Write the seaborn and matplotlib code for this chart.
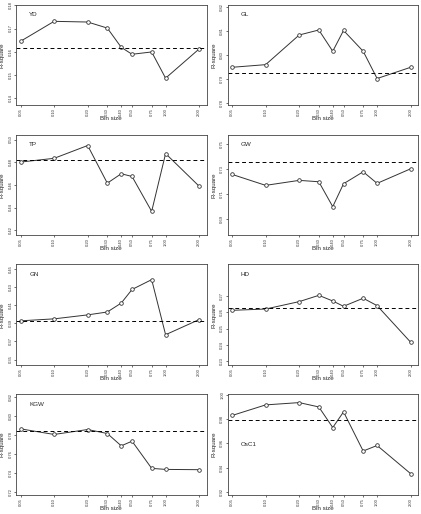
import matplotlib
matplotlib.use("Agg")
import matplotlib.pyplot as plt
import pandas as pd
import seaborn as sns
from matplotlib.ticker import FixedLocator, FixedFormatter, NullLocator

bin_sizes = [0.05, 0.10, 0.20, 0.30, 0.40, 0.50, 0.75, 1.00, 2.00]
bin_labels = ["0.05", "0.10", "0.20", "0.30", "0.40", "0.50", "0.75", "1.00", "2.00"]

traits = ["YD", "GL", "TP", "GW", "GN", "HD", "KGW", "OsC1"]

yd = [0.1645, 0.1731, 0.1728, 0.1702, 0.1619, 0.1589, 0.1599, 0.1486, 0.1612]
gl = [0.7949, 0.7960, 0.8084, 0.8105, 0.8016, 0.8103, 0.8016, 0.7902, 0.7949]
tp = [0.4801, 0.4834, 0.4947, 0.4615, 0.4698, 0.4674, 0.4366, 0.4876, 0.4588]
gw = [0.7260, 0.7172, 0.7212, 0.7201, 0.7001, 0.7185, 0.7281, 0.7188, 0.7305]
gn = [0.3929, 0.3951, 0.3995, 0.4027, 0.4126, 0.4277, 0.4386, 0.3775, 0.3943]
hd = [0.2613, 0.2621, 0.2667, 0.2706, 0.2671, 0.2638, 0.2688, 0.2642, 0.2415]
kgw = [0.7863, 0.7804, 0.7856, 0.7814, 0.7684, 0.7733, 0.7446, 0.7435, 0.7432]
osc1 = [0.9832, 0.9920, 0.9939, 0.9903, 0.9732, 0.9862, 0.9537, 0.9583, 0.9349]

# R-square with the original (un-binned) markers, drawn as the dashed line
baselines = [0.1615, 0.7925, 0.4819, 0.7361, 0.3925, 0.2625, 0.7842, 0.9793]

yticks = [
    [0.14, 0.15, 0.16, 0.17, 0.18],
    [0.78, 0.79, 0.80, 0.81, 0.82],
    [0.42, 0.44, 0.46, 0.48, 0.50],
    [0.69, 0.71, 0.73, 0.75],
    [0.35, 0.37, 0.39, 0.41, 0.43, 0.45],
    [0.23, 0.24, 0.25, 0.26, 0.27],
    [0.72, 0.74, 0.76, 0.78, 0.80, 0.82],
    [0.92, 0.94, 0.96, 0.98, 1.00],
]

ylims = [
    (0.1369, 0.1803),
    (0.7790, 0.8211),
    (0.4156, 0.5044),
    (0.6772, 0.7580),
    (0.3438, 0.4555),
    (0.2273, 0.2898),
    (0.7165, 0.8228),
    (0.9172, 1.0008),
]

label_pos = [(0.07, 0.90)] * 7 + [(0.07, 0.50)]


def draw_panel(ax, name, values, base, ticks, ylim, lpos):
    df = pd.DataFrame({"bin": bin_sizes, "r2": values})
    sns.lineplot(data=df, x="bin", y="r2", ax=ax, color="#333333", lw=0.7,
                 marker="o", markersize=2.6, markerfacecolor="white",
                 markeredgecolor="#333333", markeredgewidth=0.6)
    ax.axhline(base, color="black", lw=0.7, ls=(0, (4, 3)))
    ax.set_xscale("log")
    ax.set_xlim(0.0455, 2.33)
    ax.set_ylim(*ylim)
    ax.xaxis.set_major_locator(FixedLocator(bin_sizes))
    ax.xaxis.set_major_formatter(FixedFormatter(bin_labels))
    ax.xaxis.set_minor_locator(NullLocator())
    ax.yaxis.set_major_locator(FixedLocator(ticks))
    ax.yaxis.set_major_formatter(FixedFormatter([f"{t:.2f}" for t in ticks]))
    ax.tick_params(axis="both", labelsize=3, length=1.5, width=0.5, pad=0.8,
                   colors="#333333")
    ax.tick_params(axis="x", labelrotation=90)
    for lab in ax.get_yticklabels():
        lab.set_rotation(90)
        lab.set_va("center")
    for s in ax.spines.values():
        s.set_visible(True)
        s.set_linewidth(0.6)
        s.set_color("#444444")
    ax.set_xlabel("Bin size", fontsize=4.5, va="top")
    ax.xaxis.set_label_coords(0.5, -0.11)
    ax.set_ylabel("R-square", fontsize=4.5)
    ax.yaxis.set_label_coords(-0.06, 0.5)
    ax.text(lpos[0], lpos[1], name, transform=ax.transAxes, fontsize=4.5,
            ha="left", va="center")


def main():
    sns.set_style("ticks")
    plt.rcParams["font.family"] = ["Liberation Sans", "DejaVu Sans"]

    fig, axes = plt.subplots(4, 2, figsize=(4.21, 5.14), dpi=100)
    fig.subplots_adjust(left=0.038, right=0.993, top=0.991, bottom=0.037,
                        wspace=0.11, hspace=0.29)

    series = [yd, gl, tp, gw, gn, hd, kgw, osc1]
    for i, ax in enumerate(axes.flat):
        draw_panel(ax, traits[i], series[i], baselines[i], yticks[i],
                   ylims[i], label_pos[i])

    fig.savefig("out.png", dpi=100, facecolor="white")
    plt.close(fig)


if __name__ == "__main__":
    main()
